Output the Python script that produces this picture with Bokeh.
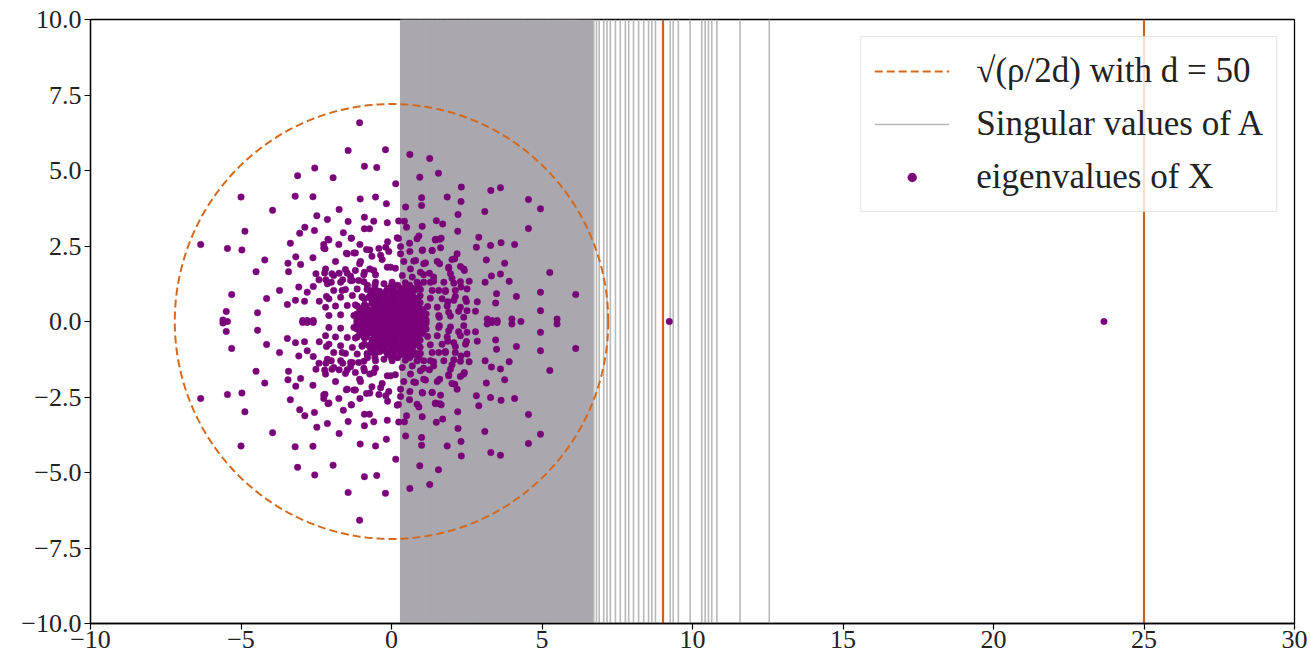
import numpy as np
from bokeh.plotting import figure
from bokeh.models import (Range1d, FixedTicker, Legend, LegendItem, ColumnDataSource)
from bokeh.embed import file_html
from bokeh.resources import INLINE

# ---------------- data ----------------
x_ticks = [-10, -5, 0, 5, 10, 15, 20, 25, 30]
x_tick_labels = ["\u221210", "\u22125", "0", "5", "10", "15", "20", "25", "30"]
y_ticks = [-10.0, -7.5, -5.0, -2.5, 0.0, 2.5, 5.0, 7.5, 10.0]
y_tick_labels = ["\u221210.0", "\u22127.5", "\u22125.0", "\u22122.5", "0.0", "2.5", "5.0", "7.5", "10.0"]
x_limits = [-10, 30]
y_limits = [-10, 10]

circle_radius = 7.2          # sqrt(rho / 2d), d = 50
orange_lines = [9.02, 25.0]

singular_values = [
    0.33, 0.38, 0.44, 0.49, 0.55, 0.60, 0.66, 0.71, 0.77, 0.82, 0.88, 0.94, 0.99, 1.05,
    1.11, 1.16, 1.22, 1.27, 1.33, 1.38, 1.44, 1.50, 1.55, 1.61, 1.66, 1.72, 1.78, 1.83,
    1.89, 1.94, 2.00, 2.06, 2.11, 2.17, 2.22, 2.28, 2.34, 2.39, 2.45, 2.50, 2.56, 2.62,
    2.67, 2.73, 2.78, 2.84, 2.90, 2.95, 3.01, 3.06, 3.12, 3.18, 3.23, 3.29, 3.34, 3.40,
    3.46, 3.51, 3.57, 3.62, 3.68, 3.74, 3.79, 3.85, 3.90, 3.96, 4.02, 4.07, 4.13, 4.18,
    4.24, 4.30, 4.35, 4.41, 4.46, 4.52, 4.58, 4.63, 4.69, 4.74, 4.80, 4.86, 4.91, 4.97,
    5.02, 5.08, 5.14, 5.19, 5.25, 5.30, 5.36, 5.42, 5.47, 5.53, 5.58, 5.64, 5.70, 5.75,
    5.81, 5.86, 5.92, 5.98, 6.04, 6.10, 6.16, 6.22, 6.29, 6.36, 6.43, 6.50, 6.58, 6.65,
    6.72, 6.81, 6.90, 7.05, 7.16, 7.27, 7.44, 7.60, 7.77, 7.88, 8.04, 8.21, 8.38, 8.54,
    8.65, 8.77, 9.26, 9.36, 9.53, 9.92, 10.31, 10.42, 10.53, 10.64, 10.81, 11.58, 12.55,
]
dense_until = 6.66

# eigenvalues of X: upper half-plane (conjugate pairs mirrored below)
eig_upper_re = [
    -1.06, -1.44, -0.20, -0.90, -0.49, -2.55, -3.12, -1.94, 0.14, -5.00, -3.20, -2.61, -1.04, -0.53,
    -0.17, -3.95, -1.74, -2.48, -2.13, -1.44, -0.90, -0.59, -0.14, 0.24, -4.87, -2.88, -3.05, -2.56,
    -1.60, -0.90, -0.73, -1.33, -2.08, -2.25, -1.75, -1.05, -0.13, 0.23, -6.34, -5.45, -4.97, -3.36,
    -2.21, -1.50, -1.20, -0.72, -0.42, -0.19, 0.30, -3.18, -2.61, -4.21, -3.44, -3.02, -1.86, -1.06,
    -0.65, -0.36, 0.30, -4.50, -3.42, -2.51, -2.22, -1.98, -1.74, -1.47, -1.20, -0.90, -0.59, -0.03,
    -5.31, -4.15, -3.72, -3.08, -2.80, -2.60, -2.41, -2.18, -2.00, -1.62, -1.36, -1.09, -5.49, -4.45,
    -3.46, -3.19, -2.89, -2.40, -2.16, -1.92, -1.64, -5.60,
    0.61, 1.27, 0.94, 1.56, 2.32, 3.30, 3.62, 4.55, 4.95, 1.00, 1.85, 2.31, 1.00, 0.47,
    3.10, 2.21, 4.55, 1.49, 1.70, 1.02, 0.43, 2.20, 0.50, 0.91, 1.46, 1.65, 2.90, 0.19,
    0.60, 1.03, 1.35, 1.63, 2.82, 3.29, 3.64, 4.09, 2.18, 2.10, 3.15, 3.76, 5.26, 0.74,
    1.07, 1.60, 1.90, 2.29, 2.42, 0.96, 1.26, 1.96, 2.58, 3.11, 3.32, 3.62, 3.91, 1.07,
    1.40, 2.07, 2.31, 1.57, 1.79, 4.95, 6.12, 3.49, 4.15, 3.46, 2.49, 2.85, 1.87, 2.12,
    4.95, 2.51, 2.79, 2.23, 1.90, 1.59, 3.18, 4.00, 5.50, -2.95, -2.80, -2.60, 3.34, 3.51,
    -2.11, -1.34, -2.25, -0.83, 0.85, 1.46, 1.60, 0.61, 1.02, 1.35, -1.47, -1.25, -0.09,
    -1.03, -0.31, 0.41, 0.80, 1.13, 1.52, 2.01, -2.19, -1.53, -0.72, -0.14, 0.13, 0.63,
    1.90, 2.40, -1.92, -1.36, -0.92, -0.53, 0.36, 0.69, 1.07, 1.40, 2.01, -2.13, -1.69,
    -1.30, -0.92, -0.53, 0.02, 0.46, 0.85, 1.29, 1.74, 2.29, -1.53, -1.14, -0.81, 0.52,
    0.96, 1.35, 1.79, 2.12, 2.51, -2.08, -1.69, -1.30, -0.97, 1.29, 1.68, 2.07, 2.46,
    -2.19, -1.86, -1.47, -1.14, 1.52, 1.85, 2.29, -2.08, -1.69, -1.25, 1.57, 1.96, 2.40,
    0.00, 0.10, -0.10, 0.25, -0.25, 0.45, -0.45, 0.65, -0.65, 0.85, -0.85, 1.05, -1.05,
    0.05, -0.15, 0.30, -0.40, 0.55, -0.60, 0.80, -0.80, 1.00, -1.00, 0.10, -0.20, 0.35,
    -0.45, 0.60, -0.65, 0.85, -0.90, 0.00, 0.25, -0.28, 0.50, -0.55, 0.75, -0.75, 0.10,
    -0.15, 0.35, -0.40, 0.60, -0.62, 0.15, -0.30, 0.40, 0.70, -0.70, 0.20, -0.05, 0.45,
    -0.35, 0.70, -0.55, 0.15, -0.10, 0.38, -0.42, 0.65, -0.65, 0.90, -0.95, 1.15, -1.15,
    1.20, -1.20, 0.95, -0.98, 0.20, -0.25, 0.50, -0.55, 0.80, -0.80,
    -1.15, -0.95, -0.75, -0.55, -0.35, -0.18, 0.18, 0.35, 0.55, 0.75, 0.95, 1.15,
    -1.00, -0.85, -0.55, -0.42, -0.15, 0.00, 0.28, 0.55, 0.85, 1.00,
    -0.90, -0.60, -0.20, 0.10, 0.48, 0.68, 0.92,
    -1.05, -0.78, -0.60, -0.20, 0.05, 0.30, 0.60, 0.80, 1.05,
    -0.85, -0.30, -0.10, 0.25, 0.50, 0.78,
    -0.45, -0.05, 0.45, 0.95,
    -0.90, -0.60, -0.35, -0.10, 0.05, 0.30, 0.62, 0.88,
    -0.70, -0.45, -0.20, 0.15, 0.40, 0.70,
    -0.30, 0.00, 0.25, 0.50,
    -0.55, -0.10, 0.05, 0.30, 0.70,
    -0.80, 0.00, 0.60, 0.90,
]
eig_upper_im = [
    6.58, 5.66, 5.69, 5.14, 5.10, 5.08, 4.83, 4.76, 4.56, 4.12, 4.15, 4.13, 4.06, 4.12,
    3.90, 3.68, 3.71, 3.50, 3.38, 3.31, 3.45, 3.32, 3.27, 3.33, 2.99, 3.12, 2.92, 3.01,
    2.94, 3.07, 3.07, 2.76, 2.70, 2.55, 2.55, 2.55, 2.64, 2.75, 2.55, 2.42, 2.37, 2.59,
    2.41, 2.26, 2.27, 2.37, 2.42, 2.46, 2.48, 2.14, 2.11, 2.04, 1.93, 1.89, 1.99, 1.91,
    2.16, 2.19, 2.24, 1.65, 1.65, 1.58, 1.61, 1.58, 1.60, 1.60, 1.69, 1.63, 1.69, 1.80,
    0.89, 0.76, 1.03, 1.14, 0.97, 1.16, 1.38, 1.38, 1.30, 1.38, 1.36, 1.36, 0.33, 0.29,
    0.56, 0.70, 0.67, 0.67, 0.83, 1.03, 1.03, 0.05,
    5.53, 5.40, 4.78, 4.91, 4.45, 4.34, 4.43, 4.04, 3.73, 4.10, 4.12, 3.97, 3.84, 3.79,
    3.64, 3.54, 3.08, 3.34, 3.23, 3.15, 3.32, 2.99, 3.12, 2.83, 2.70, 2.76, 2.79, 2.77,
    2.59, 2.37, 2.35, 2.44, 2.46, 2.52, 2.61, 2.55, 2.24, 2.08, 2.04, 1.93, 1.62, 2.00,
    1.91, 1.91, 1.80, 1.82, 1.69, 1.63, 1.60, 1.58, 1.33, 1.30, 1.51, 1.57, 1.33, 1.30,
    1.33, 1.27, 1.14, 1.03, 1.03, 0.97, 0.89, 0.92, 0.83, 0.61, 0.66, 0.65, 0.65, 0.83,
    0.36, 0.36, 0.34, 0.34, 0.31, 0.14, 0.08, 0.08, 0.08, 0.03, 0.03, 0.03, 0.03, 0.03,
    2.72, 2.76, 2.43, 2.38, 2.74, 2.72, 2.72, 2.32, 2.35, 2.35, 2.24, 2.27, 2.32,
    1.99, 2.05, 1.99, 2.02, 1.94, 1.99, 2.05, 1.74, 1.72, 1.74, 1.80, 1.76, 1.74,
    1.76, 1.74, 1.52, 1.50, 1.55, 1.55, 1.52, 1.47, 1.55, 1.47, 1.43, 1.25, 1.30,
    1.36, 1.32, 1.30, 1.30, 1.28, 1.30, 1.30, 1.30, 1.32, 1.06, 1.08, 1.06, 1.08,
    1.06, 1.03, 0.99, 1.03, 1.08, 0.75, 0.80, 0.86, 0.80, 0.77, 0.75, 0.70, 0.75,
    0.47, 0.51, 0.53, 0.51, 0.47, 0.51, 0.47, 0.20, 0.22, 0.20, 0.20, 0.18, 0.14,
    0.05, 0.10, 0.12, 0.08, 0.10, 0.10, 0.08, 0.12, 0.10, 0.08, 0.12, 0.10, 0.10,
    0.30, 0.35, 0.32, 0.30, 0.35, 0.38, 0.30, 0.32, 0.35, 0.33, 0.55, 0.60, 0.58,
    0.55, 0.55, 0.60, 0.60, 0.55, 0.80, 0.82, 0.78, 0.80, 0.82, 0.78, 0.80, 1.00,
    1.05, 1.02, 1.00, 0.98, 1.02, 0.18, 0.20, 0.22, 0.20, 0.22, 0.45, 0.45, 0.45,
    0.45, 0.45, 0.45, 0.70, 0.68, 0.70, 0.68, 0.68, 0.70, 0.45, 0.45, 0.25, 0.25,
    0.50, 0.55, 0.85, 0.82, 1.20, 1.25, 1.15, 1.20, 1.05, 1.10,
    0.05, 0.05, 0.05, 0.05, 0.05, 0.05, 0.05, 0.05, 0.05, 0.05, 0.05, 0.05,
    0.20, 0.20, 0.20, 0.20, 0.20, 0.20, 0.20, 0.20, 0.20, 0.20,
    0.28, 0.28, 0.28, 0.28, 0.28, 0.28, 0.28,
    0.40, 0.40, 0.40, 0.40, 0.40, 0.40, 0.40, 0.40, 0.40,
    0.52, 0.52, 0.52, 0.52, 0.52, 0.52,
    0.62, 0.62, 0.62, 0.62,
    0.75, 0.75, 0.75, 0.75, 0.75, 0.75, 0.75, 0.75,
    0.88, 0.88, 0.88, 0.88, 0.88, 0.88,
    0.95, 0.95, 0.95, 0.95,
    1.10, 1.10, 1.10, 1.10, 1.10,
    1.20, 1.20, 1.20, 1.20,
]
eig_real = [9.23, 23.67, -5.45, 4.30]

# ---------------- figure ----------------
p = figure(width=1310, height=656, output_backend="svg", toolbar_location=None,
           x_range=Range1d(*x_limits), y_range=Range1d(*y_limits),
           min_border_left=90, min_border_right=16, min_border_top=19, min_border_bottom=33)
p.background_fill_color = "white"
p.border_fill_color = "white"
p.xgrid.visible = False
p.ygrid.visible = False
p.outline_line_color = "black"
p.outline_line_width = 1.3
p.outline_line_alpha = 1.0

# singular values of A: vertical lines
sv = np.array(singular_values)
dense = sv[sv <= dense_until]
sparse = sv[sv > dense_until]
p.segment(x0=dense, x1=dense, y0=y_limits[0], y1=y_limits[1],
          line_color="#aaa8ae", line_width=3.0)
sv_r = p.segment(x0=sparse, x1=sparse, y0=y_limits[0], y1=y_limits[1],
                 line_color="#b9b9b9", line_width=1.6)

# orange vertical lines
p.segment(x0=orange_lines, x1=orange_lines, y0=y_limits[0], y1=y_limits[1],
          line_color="#cc6420", line_width=2.2)

# dashed circle of radius sqrt(rho/2d)
theta = np.linspace(0, 2 * np.pi, 600)
circ_r = p.line(circle_radius * np.cos(theta), circle_radius * np.sin(theta),
                line_color="#d2691e", line_width=2.0, line_dash="8 4")

# eigenvalues of X
re = list(eig_upper_re) + list(eig_upper_re) + list(eig_real)
im = list(eig_upper_im) + [-v for v in eig_upper_im] + [0.0] * len(eig_real)
src = ColumnDataSource(dict(x=re, y=im))
eig_r = p.scatter("x", "y", source=src, size=6.5, fill_color="#7a007a",
                  line_color="#7a007a", line_width=0.5)

# axes
for ax in (p.xaxis[0], p.yaxis[0]):
    ax.axis_line_color = "black"
    ax.axis_line_width = 1.3
    ax.major_tick_line_color = "black"
    ax.major_tick_line_width = 1.2
    ax.major_tick_out = 6
    ax.major_tick_in = 0
    ax.minor_tick_line_color = None
    ax.major_label_text_font = "Liberation Serif"
    ax.major_label_text_font_size = "26px"
    ax.major_label_text_color = "#222222"
p.xaxis.ticker = FixedTicker(ticks=x_ticks)
p.xaxis.major_label_overrides = {t: l for t, l in zip(x_ticks, x_tick_labels)}
p.xaxis.major_label_standoff = 1
p.yaxis.ticker = FixedTicker(ticks=y_ticks)
p.yaxis.major_label_standoff = 3
p.yaxis.major_label_overrides = {t: l for t, l in zip(y_ticks, y_tick_labels)}

legend = Legend(items=[
    LegendItem(label="\u221a(\u03c1/2d) with d = 50", renderers=[circ_r]),
    LegendItem(label="Singular values of A", renderers=[sv_r]),
    LegendItem(label="eigenvalues of X", renderers=[eig_r]),
], location="top_right")
legend.label_text_font = "Liberation Serif"
legend.label_text_font_size = "35px"
legend.label_text_color = "#222222"
legend.glyph_width = 75
legend.glyph_height = 22
legend.label_height = 42
legend.label_standoff = 27
legend.padding = 13
legend.spacing = 11
legend.margin = 17
legend.border_line_color = "#cccccc"
legend.border_line_width = 1.2
legend.background_fill_alpha = 0.8
p.add_layout(legend)

open("out.html", "w").write(file_html(p, INLINE))
